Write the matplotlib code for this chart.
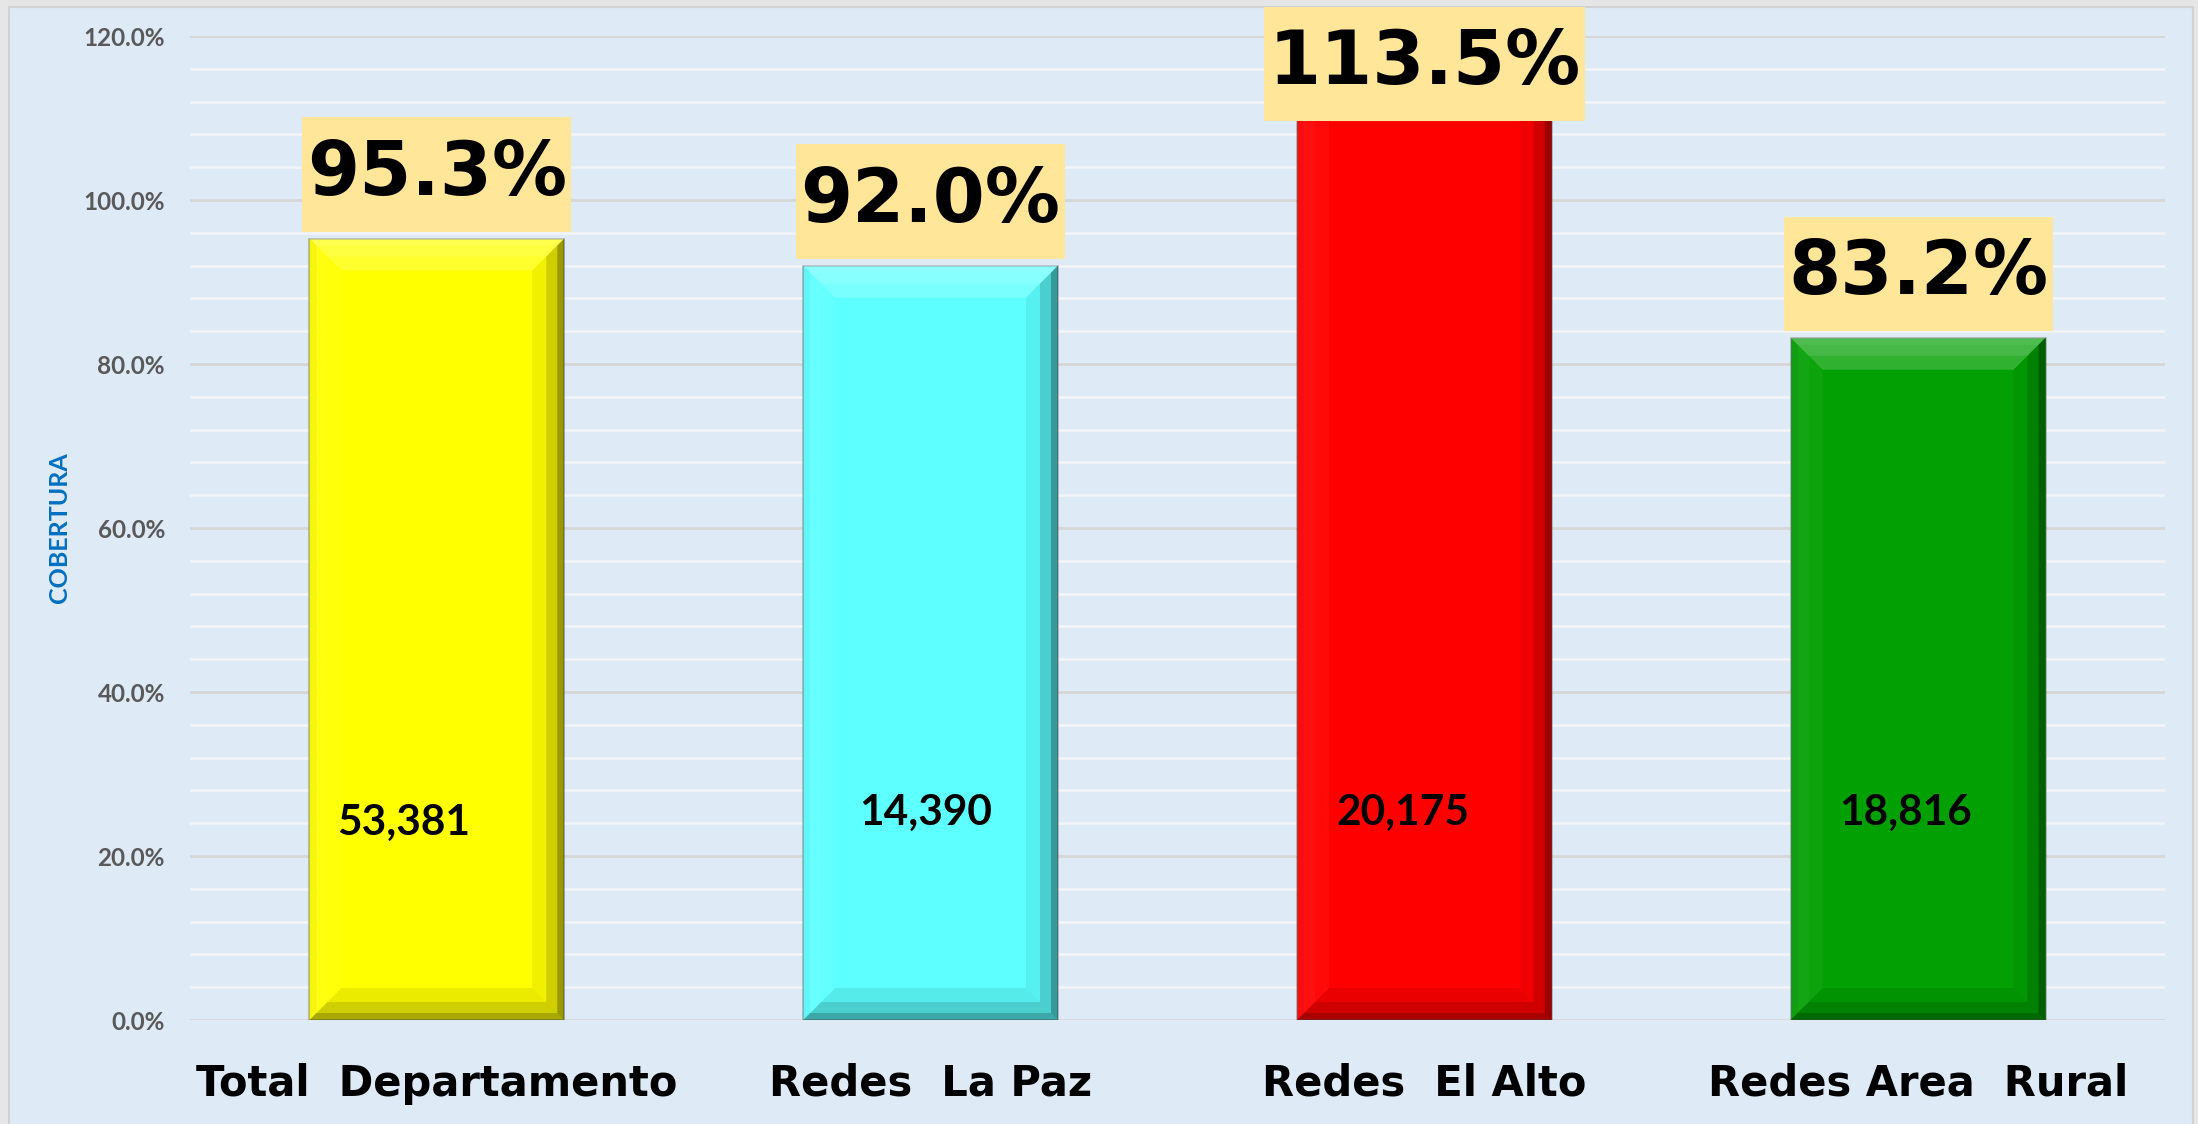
import matplotlib
matplotlib.use("Agg")
import matplotlib.pyplot as plt
from matplotlib.patches import Rectangle, Polygon
from matplotlib.transforms import blended_transform_factory
import numpy as np

# ---------------- data ----------------
categories = ["Total  Departamento", "Redes  La Paz", "Redes  El Alto", "Redes Area  Rural"]
coverage = [95.3, 92.0, 113.5, 83.2]          # %
counts = [53381, 14390, 20175, 18816]
bar_colors = ["#ffff00", "#5dffff", "#ff0000", "#03a003"]
y_ticks = [0, 20, 40, 60, 80, 100, 120]
y_label = "COBERTURA"

# ---------------- layout ----------------
W, H = 2198, 1124
fig = plt.figure(figsize=(W / 100, H / 100), dpi=100)
fig.patch.set_facecolor("#e6e6e6")
panel = Rectangle((9 / W, -0.01), (2193 - 9) / W, 1 - 7 / H + 0.01,
                  transform=fig.transFigure, facecolor="#deeaf6",
                  edgecolor="#d2d2d2", lw=1.5, zorder=-10)
fig.patches.append(panel)

ax_l, ax_r = 190, 2165
ax_top, ax_bot = 36, 1020
ax = fig.add_axes([ax_l / W, 1 - ax_bot / H, (ax_r - ax_l) / W, (ax_bot - ax_top) / H])
ax.set_zorder(1)
ax.set_facecolor("none")
ax.set_xlim(-0.5, len(categories) - 0.5)
ax.set_ylim(0, 120)
for s in ax.spines.values():
    s.set_visible(False)

# gridlines
for v in np.arange(0, 121, 4):
    if v % 20 == 0:
        ax.axhline(v, color="#d6d6d6", lw=2.0, zorder=1)
    else:
        ax.axhline(v, color="#f1f4f8", lw=2.0, zorder=1)

ax.set_yticks(y_ticks)
ax.set_yticklabels([f"{t:.1f}%" for t in y_ticks], fontfamily="Lato",
                   fontweight="bold", fontsize=17.5, color="#595959")
ax.tick_params(axis="y", length=0, pad=18)
ax.set_xticks([])

x = np.arange(len(categories))
bar_w = 0.516
bars = ax.bar(x, coverage, width=bar_w, color=bar_colors, zorder=2,
              edgecolor=(0.4, 0.4, 0.4, 0.45), lw=1.2)

# bevel effect derived from each bar's geometry
px_x = (ax_r - ax_l) / (len(categories))
px_y = (ax_bot - ax_top) / 120.0


def bevel(b, bpx, alphas):
    x0 = b.get_x(); x1 = x0 + b.get_width()
    y0 = 0; y1 = b.get_height()
    bx = bpx / px_x; by = bpx / px_y
    top = [(x0, y1), (x1, y1), (x1 - bx, y1 - by), (x0 + bx, y1 - by)]
    bot = [(x0, y0), (x1, y0), (x1 - bx, y0 + by), (x0 + bx, y0 + by)]
    left = [(x0, y0), (x0, y1), (x0 + bx, y1 - by), (x0 + bx, y0 + by)]
    right = [(x1, y0), (x1, y1), (x1 - bx, y1 - by), (x1 - bx, y0 + by)]
    for poly, (c, a) in zip([top, bot, left, right], alphas):
        ax.add_patch(Polygon(poly, closed=True, facecolor=c, alpha=a, lw=0, zorder=3))


for b in bars:
    bevel(b, 32, [("white", 0.18), ("black", 0.08), ("white", 0.04), ("black", 0.06)])
    bevel(b, 18, [("white", 0.10), ("black", 0.12), ("white", 0.03), ("black", 0.14)])
    bevel(b, 7, [("white", 0.06), ("black", 0.18), ("black", 0.04), ("black", 0.25)])

# percentage labels
label_off = 7.8
label_max = 116.6
for xi, v in zip(x, coverage):
    ax.text(xi, min(v + label_off, label_max), f"{v:.1f}%", ha="center", va="center",
            fontfamily="DejaVu Sans", fontweight="bold", fontsize=54, color="black",
            zorder=6, clip_on=False,
            bbox=dict(boxstyle="square,pad=0.06", mutation_aspect=4.6,
                      facecolor="#ffe699", edgecolor="none"))

# count labels
count_dx = [-0.067, -0.01, -0.043, -0.026]
count_y = [24.0, 25.2, 25.2, 25.2]
for xi, c, dx, cy in zip(x, counts, count_dx, count_y):
    ax.text(xi + dx, cy, f"{c:,}", ha="center", va="center", fontfamily="Lato",
            fontweight="bold", fontsize=30.5, color="black", zorder=6)

# category labels
trans = blended_transform_factory(ax.transData, ax.transAxes)
for xi, cat in zip(x, categories):
    ax.text(xi, -64 / (ax_bot - ax_top), cat, transform=trans, ha="center", va="center",
            fontfamily="DejaVu Sans", fontweight="bold", fontsize=30, color="black",
            clip_on=False)

fig.text(60 / W, 1 - 528 / H, y_label, rotation=90, ha="center", va="center",
         fontfamily="Lato", fontweight="bold", fontsize=18, color="#0070c0")

fig.savefig("out.png", dpi=100, facecolor=fig.get_facecolor())
